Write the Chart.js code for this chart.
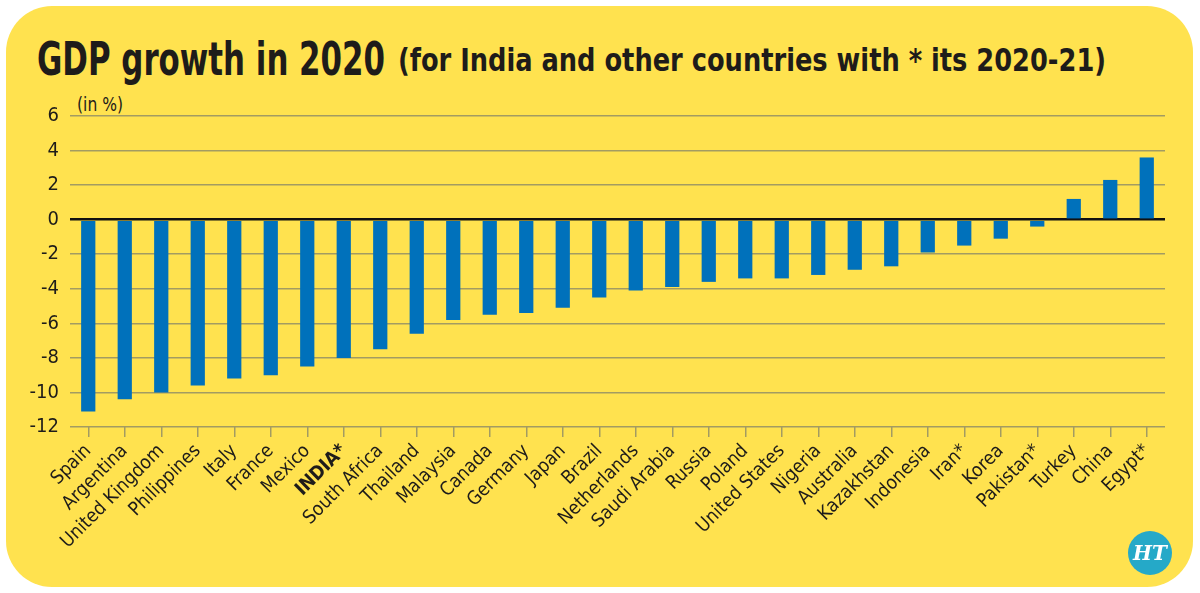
<!DOCTYPE html>
<html>
<head>
<meta charset="utf-8">
<script src="https://cdn.jsdelivr.net/npm/chart.js@4.4.1/dist/chart.umd.min.js"></script>
<style>
  html, body { margin: 0; padding: 0; background: #ffffff; }
  body { width: 1200px; height: 593px; position: relative; overflow: hidden; }
  .card {
    position: absolute; left: 6px; top: 6px; width: 1187px; height: 581px;
    background: #ffe24f; border-radius: 46px;
  }
  .title {
    position: absolute; top: 36px; white-space: nowrap; transform-origin: 0 0;
    font-family: "DejaVu Sans Condensed", "Liberation Sans Narrow", sans-serif;
    font-weight: bold; color: #1e1c1a; line-height: 46px;
  }
  #titleMain { left: 37px; font-size: 46px; }
  #titleSub { left: 398px; font-size: 32px; top: 37px; }
  .unit {
    position: absolute; left: 77px; top: 92px; transform-origin: 0 0;
    font-family: "DejaVu Sans Condensed", sans-serif;
    font-size: 20px; color: #1e1c1a;
  }
  .logo {
    position: absolute; left: 1128px; top: 531px; width: 44px; height: 44px;
    border-radius: 50%; background: #25a9c8; color: #fff;
    font-family: "DejaVu Serif", serif; font-weight: bold; font-style: italic;
    font-size: 20px; line-height: 44px; text-align: center;
  }
  #chart { position: absolute; left: 0; top: 0; }
</style>
</head>
<body>
<div class="card"></div>
<div class="title" id="titleMain">GDP growth in 2020</div>
<div class="title" id="titleSub">(for India and other countries with * its 2020-21)</div>
<div class="unit" id="unit">(in %)</div>
<canvas id="chart" width="1200" height="593"></canvas>
<div class="logo">HT</div>
<script>
const countries = ['Spain', 'Argentina', 'United Kingdom', 'Philippines', 'Italy', 'France', 'Mexico',
  'INDIA*', 'South Africa', 'Thailand', 'Malaysia', 'Canada', 'Germany', 'Japan', 'Brazil',
  'Netherlands', 'Saudi Arabia', 'Russia', 'Poland', 'United States', 'Nigeria', 'Australia',
  'Kazakhstan', 'Indonesia', 'Iran*', 'Korea', 'Pakistan*', 'Turkey', 'China', 'Egypt*'];
const growth = [-11.1, -10.4, -10.0, -9.6, -9.2, -9.0, -8.5,
  -8.0, -7.5, -6.6, -5.8, -5.5, -5.4, -5.1, -4.5,
  -4.1, -3.9, -3.6, -3.4, -3.4, -3.2, -2.9,
  -2.7, -1.9, -1.5, -1.1, -0.4, 1.2, 2.3, 3.6];
const yTicks = [6, 4, 2, 0, -2, -4, -6, -8, -10, -12];
const highlight = 'INDIA*';

const FONT = '"DejaVu Sans Condensed", sans-serif';
const GRID = '#a39b62';
const INK = '#1e1c1a';

// squeeze the headline text to the widths of the condensed original
function fitWidth(id, target) {
  const el = document.getElementById(id);
  const w = el.getBoundingClientRect().width;
  el.style.transform = 'scaleX(' + (target / w) + ')';
}
fitWidth('titleMain', 348);
fitWidth('titleSub', 708);
fitWidth('unit', 46);

const ctx = document.getElementById('chart').getContext('2d');
new Chart(ctx, {
  type: 'bar',
  data: {
    labels: countries,
    datasets: [{
      data: growth,
      backgroundColor: '#0071bb',
      borderWidth: 0,
      categoryPercentage: 1,
      barPercentage: 0.39
    }]
  },
  options: {
    responsive: false,
    animation: false,
    layout: { padding: { top: 116, left: 0, right: 35, bottom: 0 } },
    plugins: { legend: { display: false }, tooltip: { enabled: false } },
    scales: {
      x: {
        afterFit: (scale) => { scale.height = 166; },
        border: { display: false },
        grid: {
          offset: false,
          drawOnChartArea: false,
          drawTicks: true,
          tickLength: 10,
          color: GRID,
          lineWidth: 1.5
        },
        ticks: {
          autoSkip: false,
          minRotation: 45,
          maxRotation: 45,
          padding: 3,
          color: INK,
          font: (c) => ({
            family: FONT,
            size: 19,
            weight: countries[c.index] === highlight ? 'bold' : 'normal'
          })
        }
      },
      y: {
        min: -12,
        max: 6,
        afterFit: (scale) => { scale.width = 70; },
        afterBuildTicks: (scale) => { scale.ticks = yTicks.map(v => ({ value: v })); },
        border: { display: false },
        grid: {
          drawTicks: false,
          color: (c) => c.tick && c.tick.value === 0 ? '#111111' : GRID,
          lineWidth: (c) => c.tick && c.tick.value === 0 ? 2.5 : 1.5
        },
        ticks: {
          padding: 11,
          color: INK,
          font: { family: FONT, size: 20 }
        }
      }
    }
  }
});
</script>
</body>
</html>
